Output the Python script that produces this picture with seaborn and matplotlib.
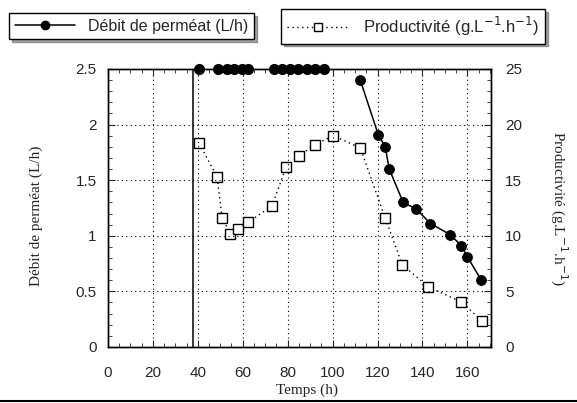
import numpy as np
import pandas as pd
import matplotlib
matplotlib.use("Agg")
import matplotlib.pyplot as plt
import seaborn as sns
from matplotlib.lines import Line2D
from matplotlib.ticker import MultipleLocator

# ---------------- data ----------------
# permeate flow at saturation (top of the scale, markers only)
plateau_t = [40.6, 49, 53, 56, 59.7, 62.4, 74, 77.5, 81, 84.7, 88.7, 92.2, 96.3]
plateau_q = [2.5] * len(plateau_t)

# permeate flow, decreasing part (L/h)
debit_t = [112.3, 120.3, 123.4, 125.2, 131.4, 137.3, 143.5, 152.4, 157.3, 160.0, 166.2]
debit_q = [2.40, 1.91, 1.80, 1.60, 1.30, 1.24, 1.11, 1.01, 0.91, 0.81, 0.60]

# productivity (g.L-1.h-1)
prod_t = [40.6, 48.6, 50.8, 54.4, 57.9, 62.4, 73.1, 79.3, 85.1, 92.2, 100.3,
          112.3, 123.4, 131.0, 142.6, 157.3, 166.7]
prod_v = [18.3, 15.3, 11.6, 10.2, 10.6, 11.2, 12.7, 16.2, 17.2, 18.2, 19.0,
          17.9, 11.6, 7.4, 5.4, 4.05, 2.3]

x_ticks = [0, 20, 40, 60, 80, 100, 120, 140, 160]
y_ticks = [0, 0.5, 1, 1.5, 2, 2.5]
y2_ticks = [0, 5, 10, 15, 20, 25]

df_debit = pd.DataFrame({"t": debit_t, "q": debit_q})
df_prod = pd.DataFrame({"t": prod_t, "p": prod_v})

# ---------------- figure ----------------
sns.set_style("ticks")
plt.rcParams["font.family"] = ["Liberation Sans", "DejaVu Sans"]

fig = plt.figure(figsize=(5.77, 4.03), dpi=100)
ax = fig.add_axes([0.187, 0.139, 0.664, 0.690])
ax2 = ax.twinx()

serif = ["Liberation Serif", "DejaVu Serif"]

# grid
for xv in x_ticks[1:]:
    ax.axvline(xv, color="black", lw=0.8, ls=(0, (1, 3)), zorder=0)
for yv in y_ticks[1:-1]:
    ax.axhline(yv, color="black", lw=0.8, ls=(0, (1, 3)), zorder=0)
ax.axvline(38, color="black", lw=1.1, zorder=1)

# productivity on the right scale
sns.lineplot(data=df_prod, x="t", y="p", ax=ax2, color="black", lw=1.0,
             linestyle=(0, (1, 2.5)), marker="s", markersize=7.5,
             markerfacecolor="white", markeredgecolor="black",
             markeredgewidth=1.0, sort=False, zorder=3)

# permeate flow on the left scale
sns.lineplot(data=df_debit, x="t", y="q", ax=ax, color="black", lw=1.1,
             marker="o", markersize=7, markeredgecolor="black", sort=False,
             zorder=4)
ax.plot(plateau_t, plateau_q, ls="none", marker="o", markersize=7,
        color="black", clip_on=False, zorder=5)

ax.set_xlim(0, 170.5)
ax.set_ylim(0, 2.5)
ax2.set_ylim(0, 25)
ax.set_zorder(ax2.get_zorder() + 1)
ax.patch.set_visible(False)

ax.set_xticks(x_ticks)
ax.set_yticks(y_ticks)
ax.set_yticklabels(["0", "0.5", "1", "1.5", "2", "2.5"])
ax2.set_yticks(y2_ticks)
ax.xaxis.set_minor_locator(MultipleLocator(5))
ax.yaxis.set_minor_locator(MultipleLocator(0.1))
ax2.yaxis.set_minor_locator(MultipleLocator(1))

ax.tick_params(which="both", direction="in", top=True, labelsize=11, pad=8)
ax.tick_params(which="major", length=5)
ax.tick_params(which="minor", length=3)
ax2.tick_params(which="both", direction="in", labelsize=11, pad=10)
ax2.tick_params(which="major", length=5)
ax2.tick_params(which="minor", length=3)
ax.tick_params(axis="x", pad=14)

for a in (ax, ax2):
    for s in a.spines.values():
        s.set_linewidth(1.0)
        s.set_color("black")

ax.set_xlabel("Temps (h)", family=serif, fontsize=11, labelpad=2)
ax.xaxis.set_label_coords(0.52, -0.13)
ax.set_ylabel("Débit de perméat (L/h)", family=serif, fontsize=11, labelpad=10)
ax.yaxis.set_label_coords(-0.17, 0.47)
ax2.set_ylabel("Productivité (g.L$^{-1}$.h$^{-1}$)", family=serif, fontsize=11,
               rotation=270, labelpad=34)

# legends as two separate boxes
h1 = Line2D([], [], color="black", lw=1.1, marker="o", markersize=6)
h2 = Line2D([], [], color="black", lw=1.0, ls=(0, (1, 2.5)), marker="s",
            markersize=6, markerfacecolor="white", markeredgecolor="black")
for h, lab, xc, fs in [(h1, "Débit de perméat (L/h)", 0.228, 11.5),
                       (h2, "Productivité (g.L$^{-1}$.h$^{-1}$)", 0.716, 12)]:
    leg = fig.legend([h], [lab], loc="center", bbox_to_anchor=(xc, 0.935),
                     frameon=True, fancybox=False, shadow=True, fontsize=fs,
                     handlelength=3.8, borderpad=0.35, borderaxespad=0)
    leg.get_frame().set_edgecolor("black")
    leg.get_frame().set_linewidth(1.0)

# page border under the chart
fig.add_artist(Line2D([0, 1], [0.006, 0.006], color="black", lw=1.5,
                      transform=fig.transFigure))

plt.savefig("out.png", dpi=100)
plt.close()
